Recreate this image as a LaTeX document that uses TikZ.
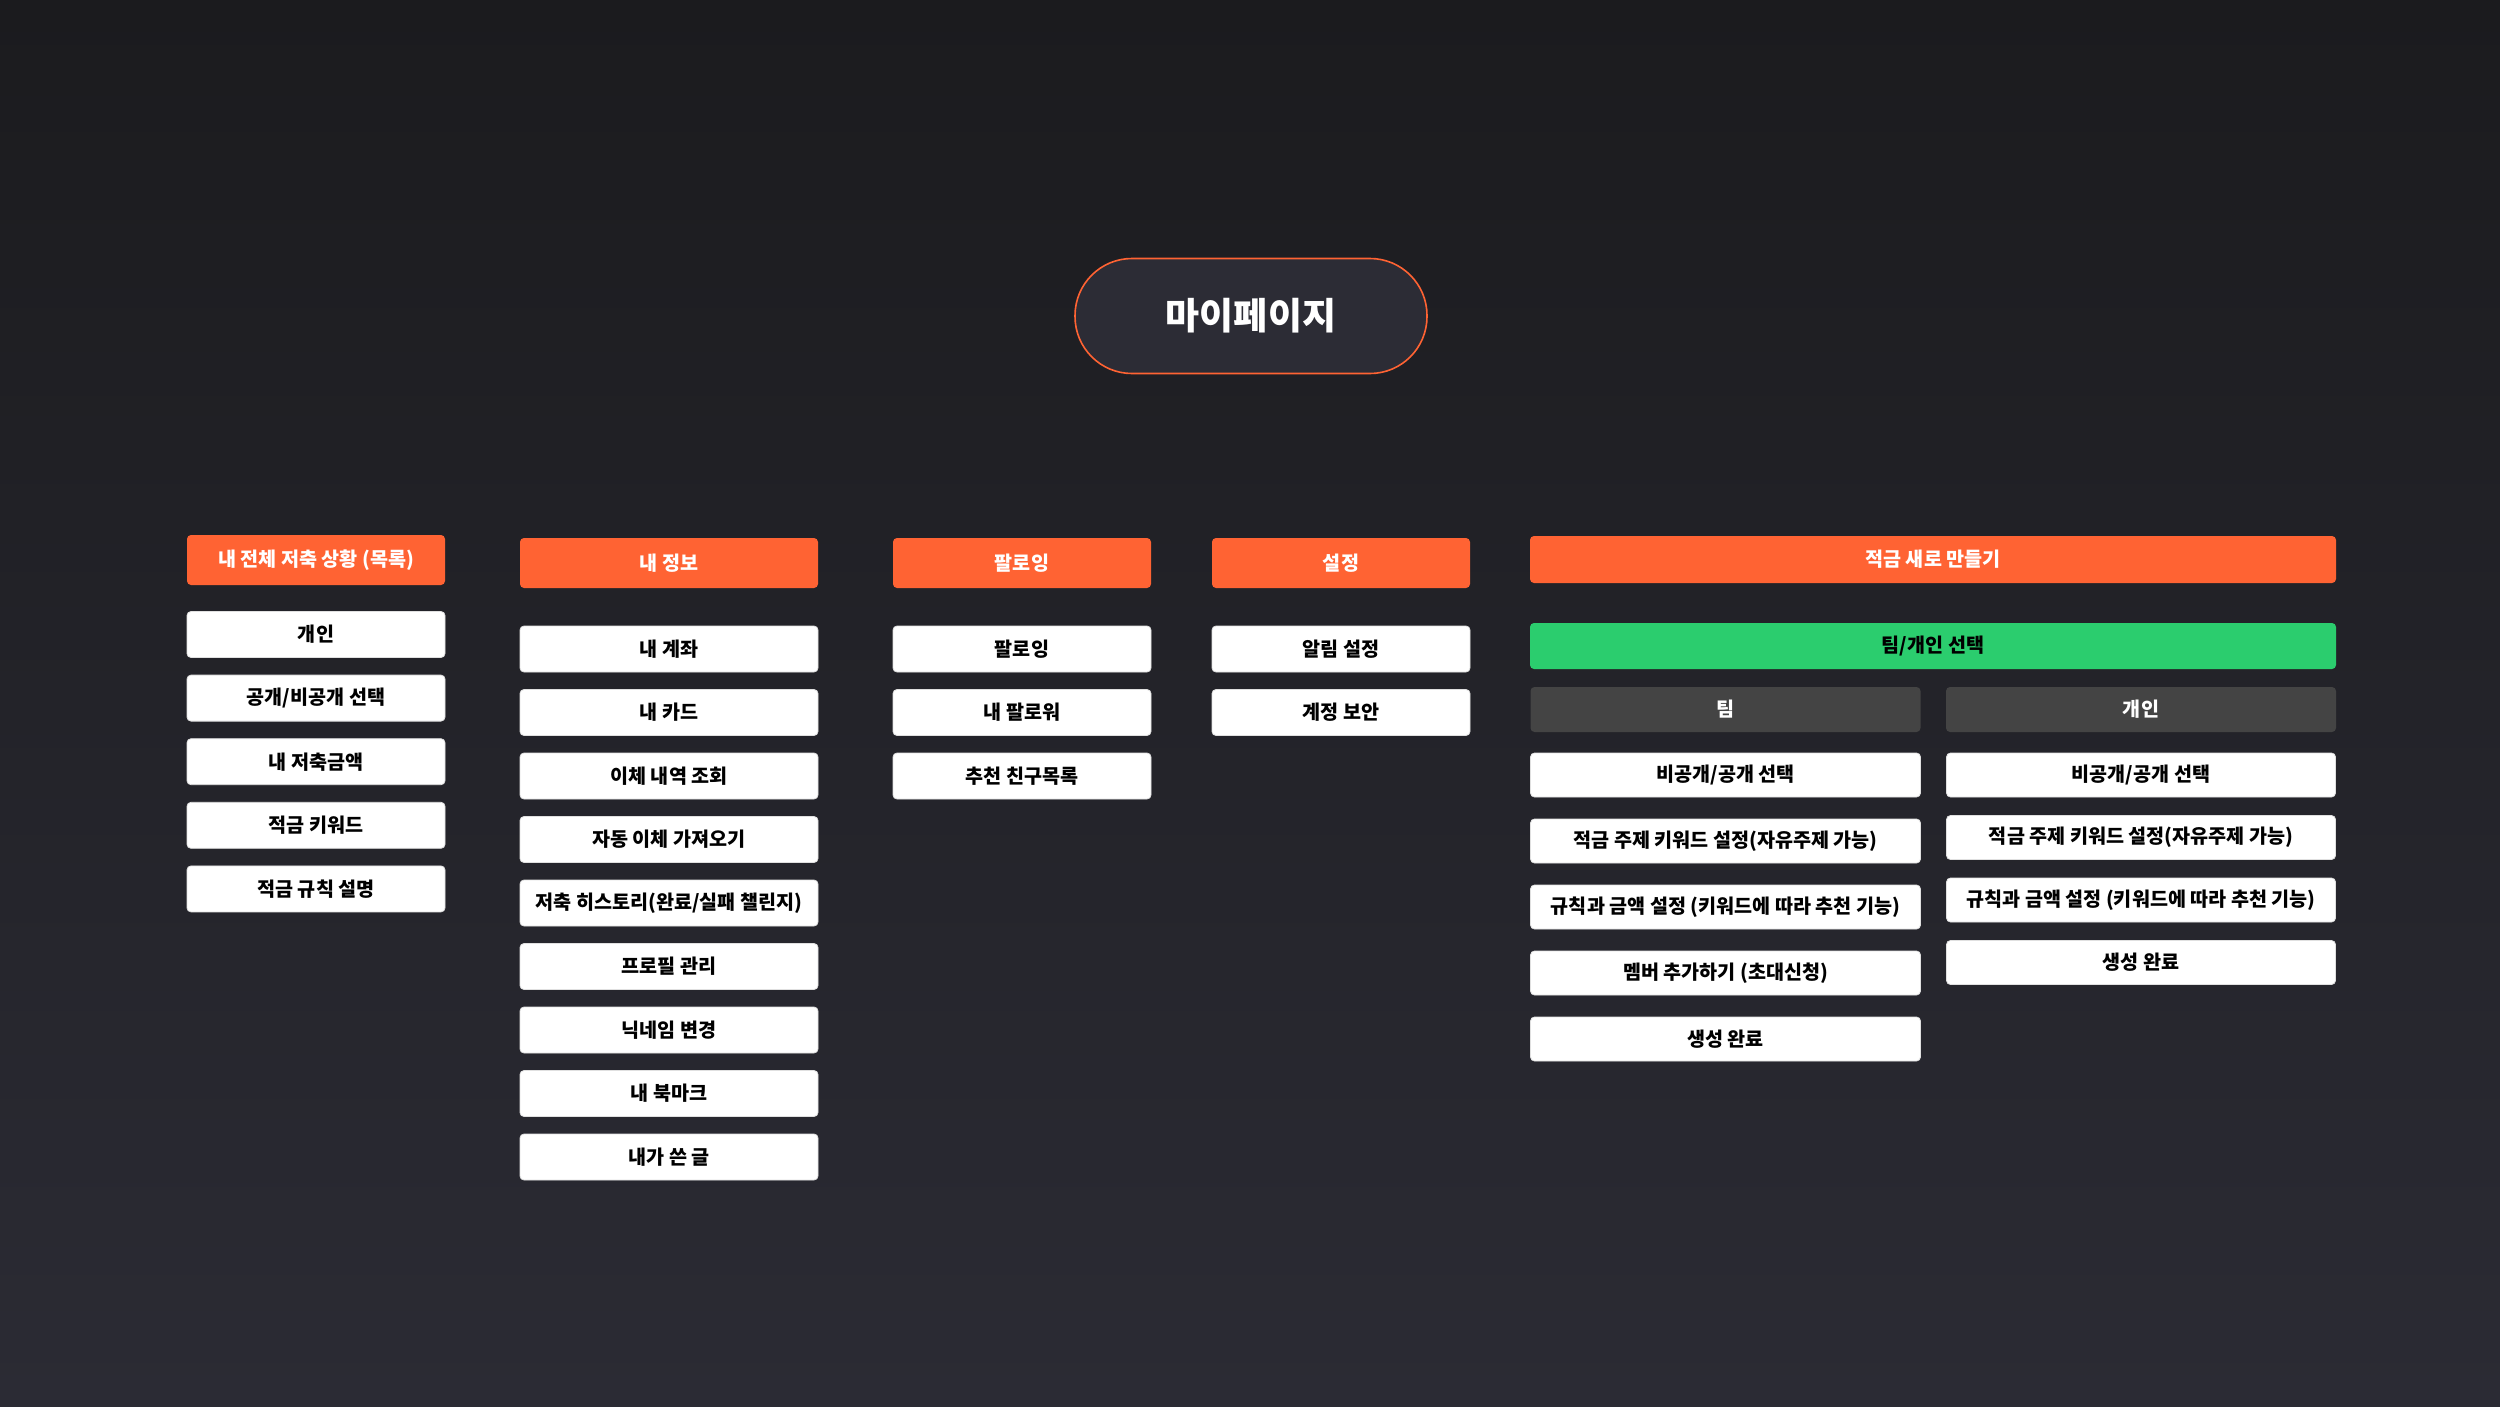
\documentclass[tikz,border=0pt]{standalone}
\usepackage{fontspec}
\setmainfont{Noto Sans CJK KR}
\definecolor{accent}{HTML}{FF6333}
\definecolor{pickgreen}{HTML}{2BCD6E}
\definecolor{tabgray}{HTML}{444444}
\definecolor{bgtop}{HTML}{1B1B1E}
\definecolor{bgbottom}{HTML}{2B2B34}
\definecolor{pillfill}{HTML}{2C2C35}

\begin{document}
\begin{tikzpicture}[x=1pt, y=-1pt,
    box/.style={rectangle, rounded corners=4pt, inner sep=0pt, font=\bfseries\fontsize{19.6}{19.6}\selectfont},
    head/.style={box, fill=accent, text=white, minimum height=50},
    item/.style={box, fill=white, draw=black!12, line width=0.8pt, text=black, minimum height=46},
    tab/.style={box, fill=tabgray, text=white, minimum width=390, minimum height=45},
    pill/.style={rectangle, rounded corners=57pt, draw=accent, line width=1.6pt, fill=pillfill, text=white,
                 minimum width=352, minimum height=115, font=\bfseries\fontsize{37}{37}\selectfont}]
            \fill[top color=bgtop, bottom color=bgbottom] (0,0) rectangle (2500,1406);

            \node[pill] (title) at (1251, 316) {마이페이지};

            \node[head, minimum width=258] (hAll) at (316, 560) {내 전체 저축 상황 (목록)};
            \node[head, minimum width=298] (hInfo) at (669, 563) {내 정보};
            \node[head, minimum width=258] (hFollow) at (1022, 563) {팔로잉};
            \node[head, minimum width=258] (hSet) at (1341, 563) {설정};
            \node[head, minimum width=806, minimum height=47] (hNew) at (1933, 559.5) {적금 새로 만들기};

            \foreach \t [count=\i] in {개인, 공개/비공개 선택, 내 저축금액, 적금 키워드, 적금 규칙 설명} {
                \pgfmathsetmacro{\y}{634.5 + (\i - 1)*63.6}
                \node[item, minimum width=258] (L\i) at (316, \y) {\t};
            }
            \foreach \t [count=\i] in {내 계좌, 내 카드, 이체 내역 조회, 자동 이체 가져오기, 저축 히스토리(완료/실패 챌린지), 프로필 관리, 닉네임 변경, 내 북마크, 내가 쓴 글} {
                \pgfmathsetmacro{\y}{649 + (\i - 1)*63.5}
                \node[item, minimum width=298] (I\i) at (669, \y) {\t};
            }
            \foreach \t [count=\i] in {팔로잉, 내 팔로워, 추천 친구목록} {
                \pgfmathsetmacro{\y}{649 + (\i - 1)*63.5}
                \node[item, minimum width=258] (F\i) at (1022, \y) {\t};
            }
            \foreach \t [count=\i] in {알림 설정, 계정 보안} {
                \pgfmathsetmacro{\y}{649 + (\i - 1)*63.5}
                \node[item, minimum width=258] (S\i) at (1341, \y) {\t};
            }

            \node[box, fill=pickgreen, text=black, minimum width=806, minimum height=46] (pick) at (1933, 646) {팀/개인 선택};
            \node[tab] (team) at (1725.5, 709.5) {팀};
            \node[tab] (solo) at (2141, 709.5) {개인};

            \foreach \t [count=\i] in {비공개/공개 선택, 적금 주제 키워드 설정(자유주제 가능), 규칙과 금액 설정 (키워드에 따라 추천 기능), 멤버 추가하기 (초대신청), 생성 완료} {
                \pgfmathsetmacro{\y}{775 + (\i - 1)*66}
                \node[item, minimum width=390, minimum height=44] (T\i) at (1725.5, \y) {\t};
            }
            \foreach \t [count=\i] in {비공개/공개 선택, 적금 주제 키워드 설정(자유주제 가능), 규칙과 금액 설정 (키워드에 따라 추천 기능), 생성 완료} {
                \pgfmathsetmacro{\y}{775 + (\i - 1)*62.5}
                \node[item, minimum width=389, minimum height=44] (P\i) at (2141, \y) {\t};
            }

        \end{tikzpicture}
\end{document}
